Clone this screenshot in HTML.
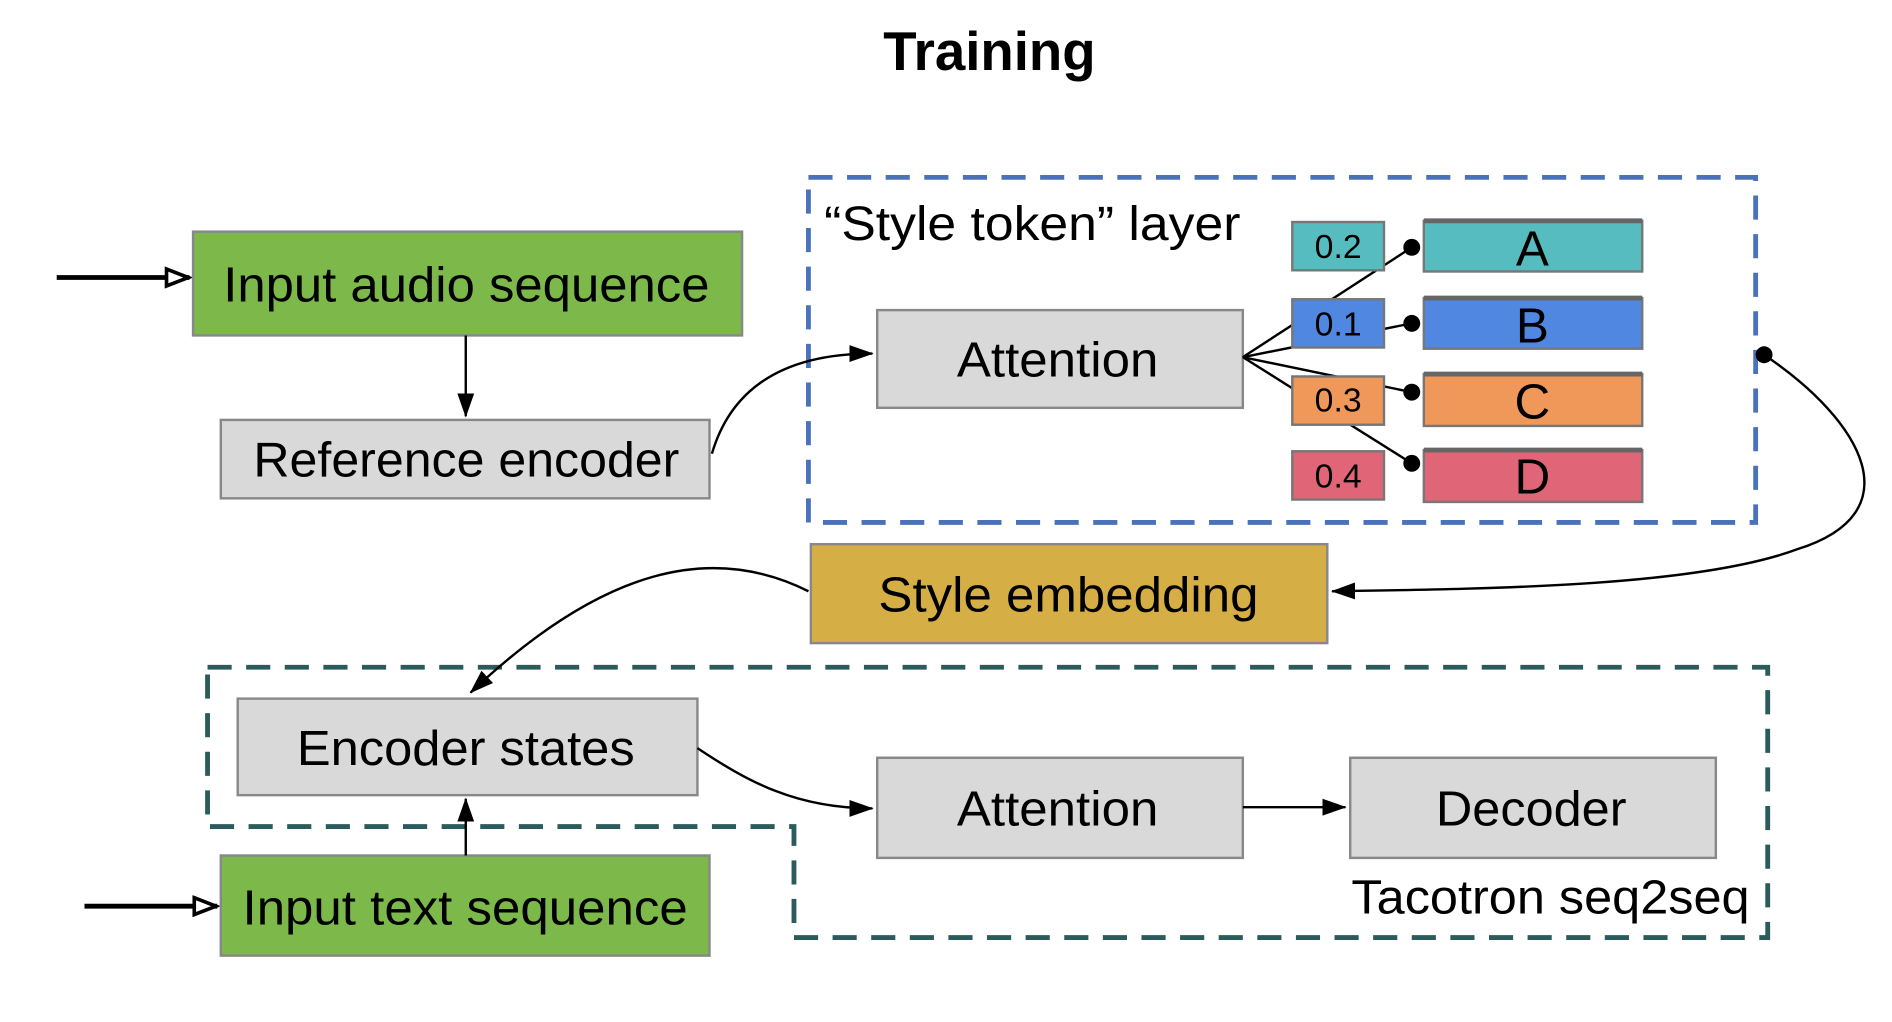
<!DOCTYPE html>
<html><head><meta charset="utf-8"><style>
html,body{margin:0;padding:0;background:#fff;}
svg{display:block;}
text{font-family:"Liberation Sans",Arial,sans-serif;}
</style></head><body>
<svg width="1892" height="1022" viewBox="0 0 1568 847" preserveAspectRatio="none" xmlns="http://www.w3.org/2000/svg">
<defs>
<marker id="ah" markerWidth="20" markerHeight="16" refX="19" refY="8" orient="auto" markerUnits="userSpaceOnUse" viewBox="0 0 20 16">
<path d="M0,1 L20,8 L0,15 z" fill="#000"/></marker>
<marker id="ab" markerWidth="24" markerHeight="20" refX="22" refY="10" orient="auto" markerUnits="userSpaceOnUse" viewBox="0 0 24 20">
<path d="M3,3 L21,10 L3,17 z" fill="#fff" stroke="#000" stroke-width="3"/></marker>
</defs>
<text x="820" y="58" font-size="45" font-weight="bold" text-anchor="middle" textLength="176" lengthAdjust="spacingAndGlyphs">Training</text>

<rect x="670" y="147" width="785" height="286" fill="none" stroke="#4a72b8" stroke-width="4" stroke-dasharray="20,12"/>
<text x="683" y="199" font-size="40" textLength="345" lengthAdjust="spacingAndGlyphs">“Style token” layer</text>

<path d="M172,553 L1465,553 L1465,777 L658,777 L658,685 L172,685 Z" fill="none" stroke="#2b5b5b" stroke-width="4" stroke-dasharray="20,12"/>
<text x="1120" y="757" font-size="40" textLength="330" lengthAdjust="spacingAndGlyphs">Tacotron seq2seq</text>

<line x1="47" y1="230" x2="157" y2="230" stroke="#000" stroke-width="4" marker-end="url(#ab)"/>
<line x1="70" y1="751" x2="180" y2="751" stroke="#000" stroke-width="4" marker-end="url(#ab)"/>

<rect x="160" y="192" width="455" height="86" fill="#7db94a" stroke="#888" stroke-width="2"/>
<text x="185" y="250" font-size="41" textLength="403" lengthAdjust="spacingAndGlyphs">Input audio sequence</text>
<rect x="183" y="348" width="405" height="65" fill="#d9d9d9" stroke="#888" stroke-width="2"/>
<text x="210" y="395" font-size="41" textLength="353" lengthAdjust="spacingAndGlyphs">Reference encoder</text>
<rect x="727" y="257" width="303" height="81" fill="#d9d9d9" stroke="#888" stroke-width="2"/>
<text x="793" y="312" font-size="41" textLength="167" lengthAdjust="spacingAndGlyphs">Attention</text>

<g stroke="#000" stroke-width="2" fill="none">
<line x1="1030" y1="296" x2="1170" y2="205"/>
<line x1="1030" y1="296" x2="1170" y2="268"/>
<line x1="1030" y1="296" x2="1170" y2="325"/>
<line x1="1030" y1="296" x2="1170" y2="384"/>
</g>
<g stroke="#777" stroke-width="2">
<rect x="1071" y="184" width="76" height="40" fill="#57bcbf"/>
<rect x="1071" y="248" width="76" height="40" fill="#5087e0"/>
<rect x="1071" y="312" width="76" height="40" fill="#f0975a"/>
<rect x="1071" y="374" width="76" height="40" fill="#e06677"/>
<rect x="1180" y="183" width="181" height="42" fill="#57bcbf"/>
<rect x="1180" y="247" width="181" height="42" fill="#5087e0"/>
<rect x="1180" y="310" width="181" height="43" fill="#f0975a"/>
<rect x="1180" y="373" width="181" height="43" fill="#e06677"/>
</g>
<g stroke="#666" stroke-width="4">
<line x1="1180" y1="183" x2="1361" y2="183"/><line x1="1180" y1="247" x2="1361" y2="247"/>
<line x1="1180" y1="310" x2="1361" y2="310"/><line x1="1180" y1="373" x2="1361" y2="373"/>
</g>
<g font-size="28" text-anchor="middle">
<text x="1109" y="214">0.2</text><text x="1109" y="278">0.1</text>
<text x="1109" y="341">0.3</text><text x="1109" y="404">0.4</text>
</g>
<g font-size="41" text-anchor="middle">
<text x="1270" y="220">A</text><text x="1270" y="284">B</text>
<text x="1270" y="347">C</text><text x="1270" y="409">D</text>
</g>
<g fill="#000">
<circle cx="1170" cy="205" r="7"/><circle cx="1170" cy="268" r="7"/>
<circle cx="1170" cy="325" r="7"/><circle cx="1170" cy="384" r="7"/>
<circle cx="1462" cy="294" r="7"/>
</g>

<rect x="672" y="451" width="428" height="82" fill="#d6ae46" stroke="#888" stroke-width="2"/>
<text x="728" y="507" font-size="41" textLength="315" lengthAdjust="spacingAndGlyphs">Style embedding</text>

<rect x="197" y="579" width="381" height="80" fill="#d9d9d9" stroke="#888" stroke-width="2"/>
<text x="246" y="634" font-size="41" textLength="280" lengthAdjust="spacingAndGlyphs">Encoder states</text>
<rect x="727" y="628" width="303" height="83" fill="#d9d9d9" stroke="#888" stroke-width="2"/>
<text x="793" y="684" font-size="41" textLength="167" lengthAdjust="spacingAndGlyphs">Attention</text>
<rect x="1119" y="628" width="303" height="83" fill="#d9d9d9" stroke="#888" stroke-width="2"/>
<text x="1190" y="684" font-size="41" textLength="158" lengthAdjust="spacingAndGlyphs">Decoder</text>
<rect x="183" y="709" width="405" height="83" fill="#7db94a" stroke="#888" stroke-width="2"/>
<text x="201" y="766" font-size="41" textLength="369" lengthAdjust="spacingAndGlyphs">Input text sequence</text>

<g stroke="#000" stroke-width="2" fill="none">
<line x1="386" y1="278" x2="386" y2="345" marker-end="url(#ah)"/>
<path d="M590,376 C605,325 645,293 723,293" marker-end="url(#ah)"/>
<path d="M1462,294 C1545,350 1585,425 1490,455 C1410,485 1250,488 1104,490" marker-end="url(#ah)"/>
<path d="M670,490 C590,450 500,470 390,574" marker-end="url(#ah)"/>
<path d="M578,620 C620,648 660,670 723,670" marker-end="url(#ah)"/>
<line x1="1030" y1="669" x2="1115" y2="669" marker-end="url(#ah)"/>
<line x1="386" y1="709" x2="386" y2="662" marker-end="url(#ah)"/>
</g>
</svg>
</body></html>
